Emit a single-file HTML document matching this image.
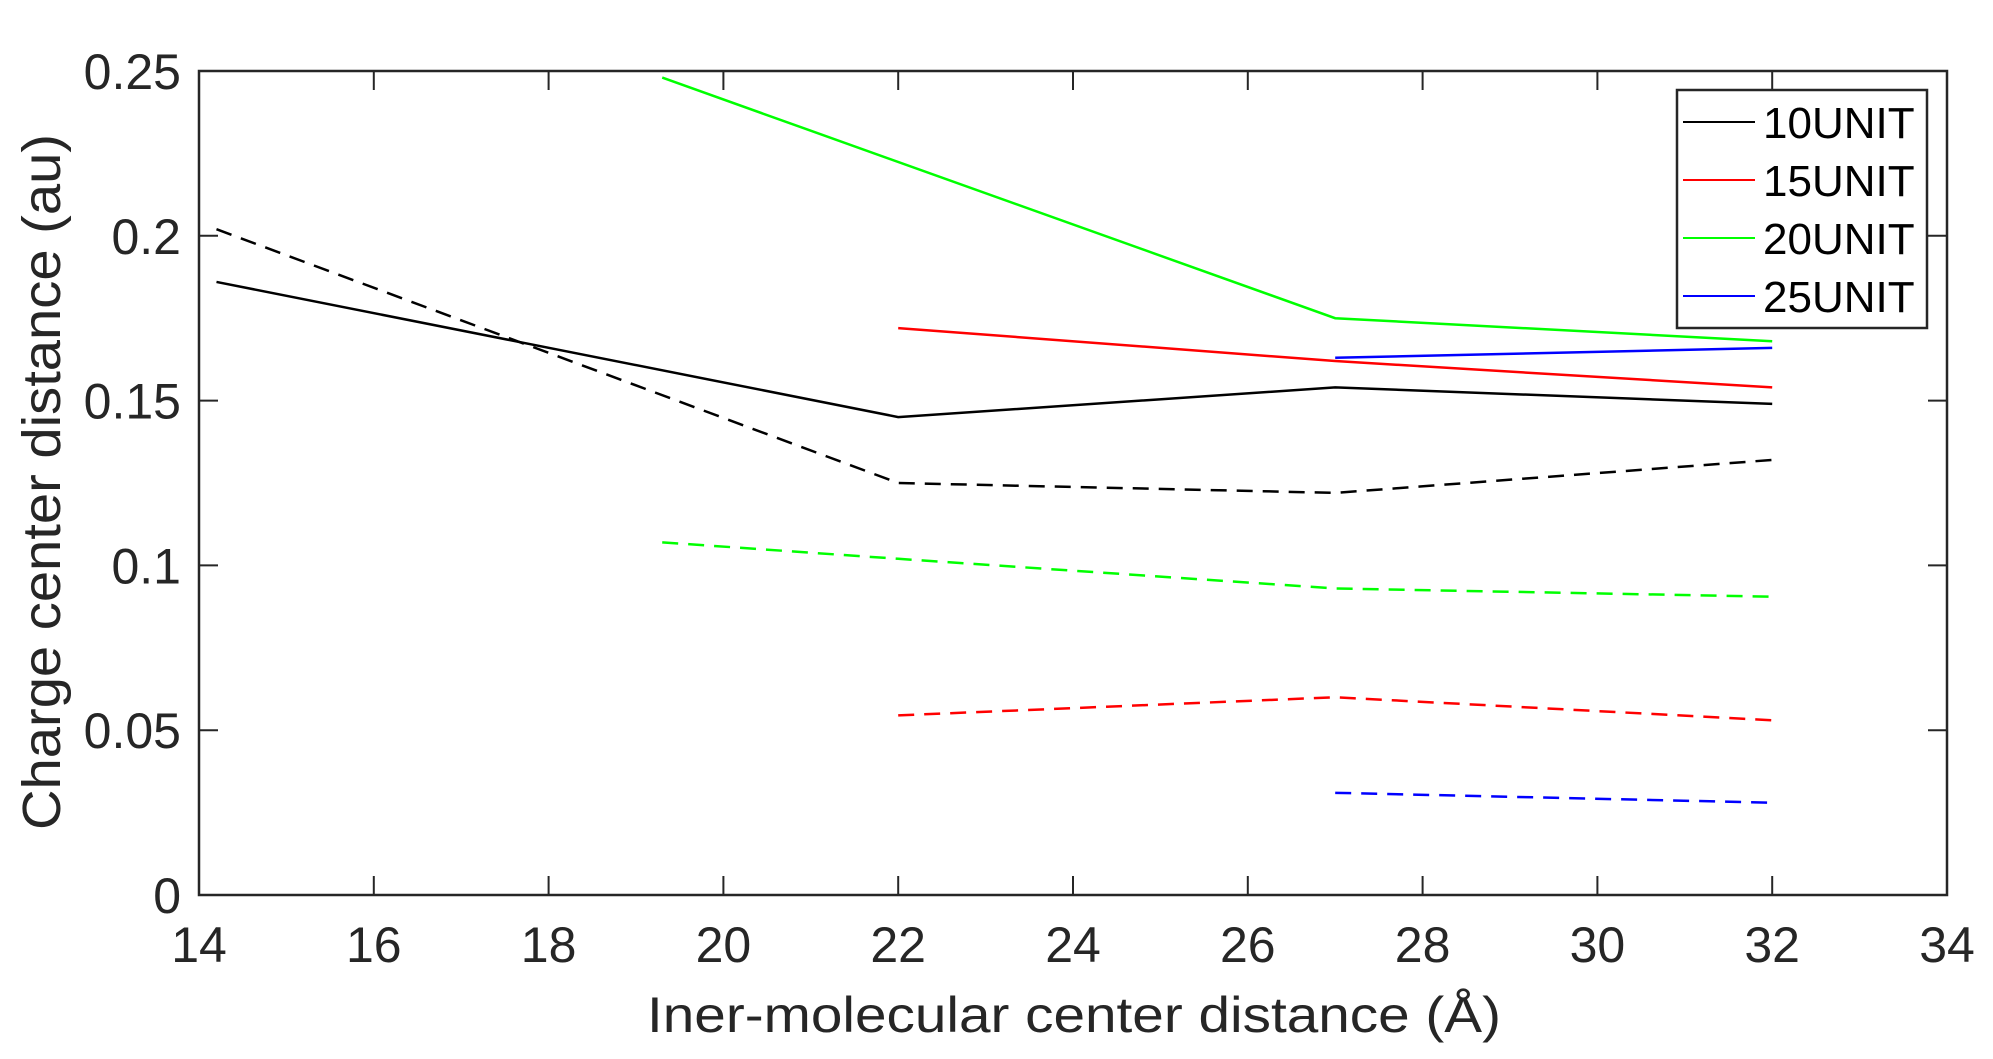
<!DOCTYPE html>
<html><head><meta charset="utf-8"><style>html,body{margin:0;padding:0;background:#fff}svg{display:block}</style></head>
<body>
<svg id="s" width="1993" height="1059" viewBox="0 0 1993 1059" xmlns="http://www.w3.org/2000/svg" font-family="Liberation Sans, Arial, sans-serif">
<rect width="1993" height="1059" fill="#fff"/>
<g id="plot"></g>
<g fill="#262626" font-size="50">
<g id="xt" text-anchor="middle"></g>
<g id="yt" text-anchor="end"></g>
<text x="1074" y="1032" text-anchor="middle" textLength="854" lengthAdjust="spacingAndGlyphs">Iner-molecular center distance (Å)</text>
<text transform="translate(60,482) rotate(-90)" text-anchor="middle" font-size="54" textLength="696" lengthAdjust="spacingAndGlyphs">Charge center distance (au)</text>
</g>
<rect x="199" y="71" width="1748" height="824" fill="none" stroke="#262626" stroke-width="2.5"/>
<g>
<rect x="1677" y="90" width="250" height="238" fill="#fff" stroke="#262626" stroke-width="2.5"/>
<line x1="1683" x2="1755" y1="122" y2="122" stroke="#000" stroke-width="2"/>
<line x1="1683" x2="1755" y1="180" y2="180" stroke="#f00" stroke-width="2"/>
<line x1="1683" x2="1755" y1="238" y2="238" stroke="#0f0" stroke-width="2"/>
<line x1="1683" x2="1755" y1="296" y2="296" stroke="#00f" stroke-width="2"/>
<g font-size="44" fill="#000">
<text x="1763" y="138">10UNIT</text>
<text x="1763" y="196">15UNIT</text>
<text x="1763" y="254">20UNIT</text>
<text x="1763" y="312">25UNIT</text>
</g>
</g>
</svg>
<script>
const X=v=>199+(v-14)*87.4, Y=v=>895-v*3296;
const ns="http://www.w3.org/2000/svg";
const mk=(p,t,a,txt)=>{const e=document.createElementNS(ns,t);for(const k in a)e.setAttribute(k,a[k]);if(txt)e.textContent=txt;document.getElementById(p).appendChild(e);};
for(let v=14;v<=34;v+=2){const x=X(v);mk("plot","line",{x1:x,x2:x,y1:895,y2:876,stroke:"#262626","stroke-width":2});mk("plot","line",{x1:x,x2:x,y1:71,y2:90,stroke:"#262626","stroke-width":2});mk("xt","text",{x:x,y:962},String(v));}
[0,0.05,0.1,0.15,0.2,0.25].forEach(v=>{const y=Y(v);mk("plot","line",{x1:199,x2:218,y1:y,y2:y,stroke:"#262626","stroke-width":2});mk("plot","line",{x1:1947,x2:1928,y1:y,y2:y,stroke:"#262626","stroke-width":2});mk("yt","text",{x:181,y:y+18},String(v));});
const S=[
["#000",0,[[14.2,0.186],[22,0.145],[27,0.154],[32,0.149]]],
["#000",1,[[14.2,0.202],[22,0.125],[27,0.122],[32,0.132]]],
["#f00",0,[[22,0.172],[27,0.162],[32,0.154]]],
["#f00",1,[[22,0.0545],[27,0.06],[32,0.053]]],
["#0f0",0,[[19.3,0.248],[27,0.175],[32,0.168]]],
["#0f0",1,[[19.3,0.107],[22,0.102],[27,0.093],[32,0.0905]]],
["#00f",0,[[27,0.163],[32,0.166]]],
["#00f",1,[[27,0.031],[32,0.028]]]];
S.forEach(([c,d,pts])=>{const a={points:pts.map(p=>X(p[0])+","+Y(p[1])).join(" "),fill:"none",stroke:c,"stroke-width":2.5};if(d)a["stroke-dasharray"]="16,10";mk("plot","polyline",a);});
</script>
</body></html>
